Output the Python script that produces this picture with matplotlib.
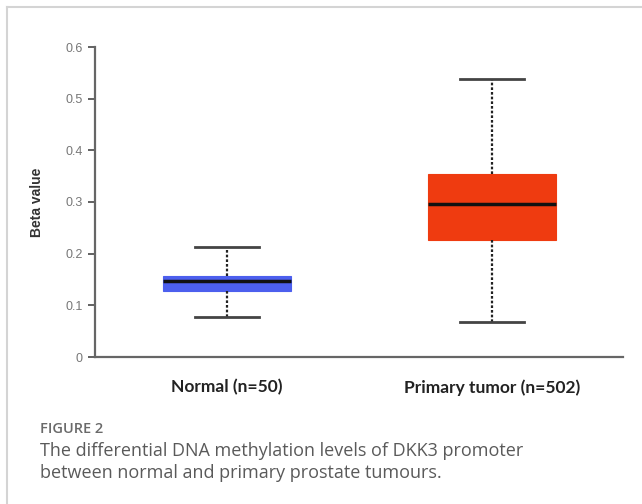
import matplotlib.pyplot as plt
from matplotlib.lines import Line2D

# box statistics (beta values)
groups = ["Normal (n=50)", "Primary tumor (n=502)"]
whisker_low = [0.078, 0.068]
q1 = [0.127, 0.227]
median = [0.148, 0.297]
q3 = [0.157, 0.354]
whisker_high = [0.213, 0.538]
box_colors = ["#4C5FEE", "#EF3B10"]

y_ticks = [0, 0.1, 0.2, 0.3, 0.4, 0.5, 0.6]
y_ticklabels = ["0", "0.1", "0.2", "0.3", "0.4", "0.5", "0.6"]

W, H = 642, 504
fig = plt.figure(figsize=(W / 100, H / 100), dpi=100)
fig.patch.set_facecolor("white")

ax = fig.add_axes([95 / W, 1 - 357 / H, 528 / W, 310 / H])

stats = []
for i, g in enumerate(groups):
    stats.append({
        "label": g,
        "whislo": whisker_low[i],
        "q1": q1[i],
        "med": median[i],
        "q3": q3[i],
        "whishi": whisker_high[i],
    })

bp = ax.bxp(
    stats,
    positions=[1, 2],
    widths=0.485,
    showfliers=False,
    patch_artist=True,
    medianprops=dict(color="#111111", linewidth=2.5),
    whiskerprops=dict(color="#222222", linewidth=1.6, linestyle=(0, (1.2, 0.9))),
    capprops=dict(color="#444444", linewidth=2),
    capwidths=0.24,
)
for patch, c in zip(bp["boxes"], box_colors):
    patch.set_facecolor(c)
    patch.set_edgecolor(c)
    patch.set_linewidth(0.8)

ax.set_xlim(0.502, 2.494)
ax.set_ylim(0, 0.6)
ax.set_yticks(y_ticks)
ax.set_yticklabels(y_ticklabels, fontsize=9, color="#777777", family="Liberation Sans")
ax.tick_params(axis="y", length=5, width=1.3, color="#555555", pad=4)
ax.tick_params(axis="x", length=0, pad=16)
for lab in ax.get_xticklabels():
    lab.set_fontsize(12.5)
    lab.set_fontweight("bold")
    lab.set_family("Lato")
    lab.set_color("#222222")

for s in ["top", "right"]:
    ax.spines[s].set_visible(False)
for s in ["left", "bottom"]:
    ax.spines[s].set_color("#666666")
    ax.spines[s].set_linewidth(1.6)

ax.set_ylabel("Beta value", fontsize=10, fontweight="bold", family="Liberation Sans",
              color="#333333", labelpad=15)

# page frame lines (left and top)
fig.add_artist(Line2D([7 / W, 7 / W], [0, 1 - 7 / H], transform=fig.transFigure,
                      color="#d4d4d4", linewidth=1.5))
fig.add_artist(Line2D([7 / W, 1], [1 - 7 / H, 1 - 7 / H], transform=fig.transFigure,
                      color="#d4d4d4", linewidth=1.5))

# caption
fig.text(40 / W, 1 - 429 / H, "FIGURE 2", fontsize=10.5, fontweight="semibold",
         family="Open Sans", color="#6a6a6a", va="center")
fig.text(40 / W, 1 - 451 / H, "The differential DNA methylation levels of DKK3 promoter",
         fontsize=13, family="Open Sans", color="#5a5a5a", va="center")
fig.text(40 / W, 1 - 473 / H, "between normal and primary prostate tumours.",
         fontsize=13, family="Open Sans", color="#5a5a5a", va="center")

fig.savefig("out.png", dpi=100)
